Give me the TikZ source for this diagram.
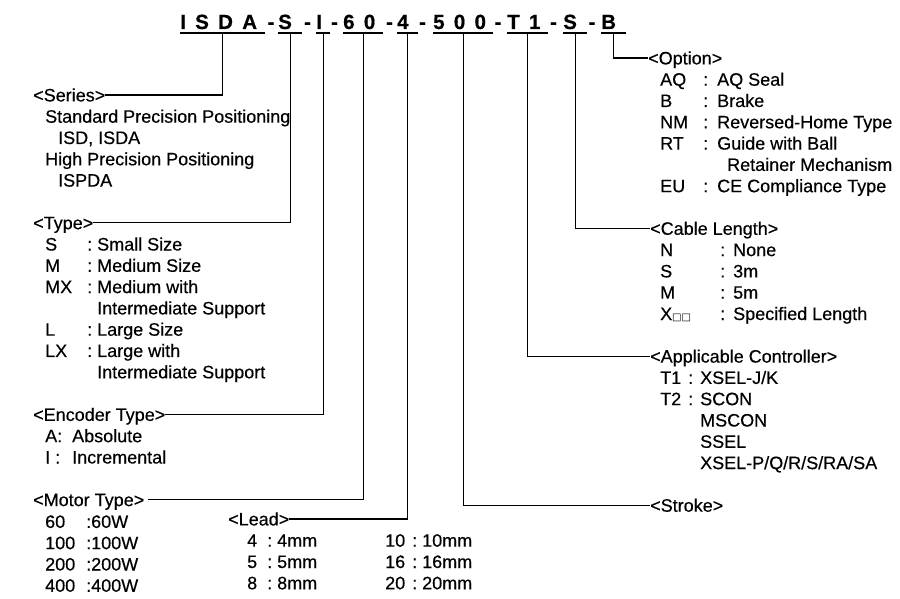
\documentclass[tikz,border=0pt]{standalone}
\usepackage{fontspec}
\usepackage{array}
\setmainfont{Liberation Sans}[FakeBold=0.4]
\newfontfamily\titlefont{Liberation Sans Bold}[FakeBold=0.6]
\newfontfamily\symfont{DejaVu Sans}
\newcommand\trk{\kern9.3pt}
\begin{document}
\begin{tikzpicture}[x=1pt,y=-1pt,
  lbl/.style={inner sep=0pt, anchor=base west, font=\fontsize{18}{21.3}\selectfont},
  seg/.style={inner sep=0pt, anchor=base west, font=\titlefont\fontsize{20.5}{22}\selectfont},
  hy/.style={inner sep=0pt, anchor=base, font=\titlefont\fontsize{20.5}{22}\selectfont},
  ul/.style={line width=1.9pt},
  con/.style={line width=1.1pt}]
\useasboundingbox (0,0) rectangle (900,599);

% ---- title segments ----
\node[seg] (sISDA) at (180,29) {\makebox[85pt][l]{I\trk S\trk D\trk A}};
\node[seg] (sS)    at (278,29) {\makebox[24pt][l]{S}};
\node[seg] (sI)    at (316,29) {\makebox[14pt][l]{I}};
\node[seg] (s60)   at (343,29) {\makebox[40pt][l]{6\trk 0}};
\node[seg] (s4)    at (397,29) {\makebox[21pt][l]{4}};
\node[seg] (s500)  at (433,29) {\makebox[60pt][l]{5\trk 0\trk 0}};
\node[seg] (sT1)   at (507,29) {\makebox[41pt][l]{T\trk 1}};
\node[seg] (sS2)   at (563,29) {\makebox[24pt][l]{S}};
\node[seg] (sB)    at (601,29) {\makebox[25pt][l]{B}};
\node[hy] (h1) at (271,29) {-};
\node[hy] (h2) at (307.5,29) {-};
\node[hy] (h3) at (334.5,29) {-};
\node[hy] (h4) at (389.5,29) {-};
\node[hy] (h5) at (422.5,29) {-};
\node[hy] (h6) at (498,29) {-};
\node[hy] (h7) at (553.5,29) {-};
\node[hy] (h8) at (592,29) {-};
\foreach \s in {sISDA,sS,sI,s60,s4,s500,sT1,sS2,sB}
  \draw[ul] ([yshift=-4.3pt]\s.base west) -- ([yshift=-4.3pt]\s.base east);

% ---- left headers and lists ----
\node[lbl] (series) at (33,101.4) {<Series>};
\node[lbl] (serieslist) at (45,122.7) {\begin{tabular}[t]{@{}l@{}}
Standard Precision Positioning\\
\hspace*{13pt}ISD, ISDA\\
High Precision Positioning\\
\hspace*{13pt}ISPDA
\end{tabular}};

\node[lbl] (type) at (33,229.2) {<Type>};
\node[lbl] (typelist) at (45,250.5) {\begin{tabular}[t]{@{}w{l}{42pt}@{}w{l}{10pt}@{}l@{}}
S & : & Small Size\\
M & : & Medium Size\\
MX & : & Medium with\\
 & & Intermediate Support\\
L & : & Large Size\\
LX & : & Large with\\
 & & Intermediate Support
\end{tabular}};

\node[lbl] (encoder) at (33,420.9) {<Encoder Type>};
\node[lbl] (encoderlist) at (45,442.2) {\begin{tabular}[t]{@{}w{l}{27pt}@{}l@{}}
A: & Absolute\\
I : & Incremental
\end{tabular}};

\node[lbl] (motor) at (33,506.1) {<Motor Type>};
\node[lbl] (motorlist) at (45,527.9) {\begin{tabular}[t]{@{}w{l}{41pt}@{}l@{}}
60 & :60W\\
100 & :100W\\
200 & :200W\\
400 & :400W
\end{tabular}};

\node[lbl] (lead) at (228,525.4) {<Lead>};
\node[lbl] (leadlist) at (247,546.7) {\begin{tabular}[t]{@{}w{l}{20pt}@{}w{l}{10pt}@{}w{l}{108pt}@{}w{l}{27pt}@{}w{l}{10pt}@{}l@{}}
4 & : & 4mm & 10 & : & 10mm\\
5 & : & 5mm & 16 & : & 16mm\\
8 & : & 8mm & 20 & : & 20mm
\end{tabular}};

% ---- right headers and lists ----
\node[lbl] (option) at (648,64.4) {<Option>};
\node[lbl] (optionlist) at (660,85.7) {\begin{tabular}[t]{@{}w{l}{43pt}@{}w{l}{14pt}@{}l@{}}
AQ & : & AQ Seal\\
B & : & Brake\\
NM & : & Reversed-Home Type\\
RT & : & Guide with Ball\\
 & & \hspace*{10pt}Retainer Mechanism\\
EU & : & CE Compliance Type
\end{tabular}};

\node[lbl] (cable) at (650,234.8) {<Cable Length>};
\node[lbl] (cablelist) at (660,256.1) {\begin{tabular}[t]{@{}w{l}{60pt}@{}w{l}{13pt}@{}l@{}}
N & : & None\\
S & : & 3m\\
M & : & 5m\\
X{\symfont\fontsize{10}{12}\selectfont □□} & : & Specified Length
\end{tabular}};

\node[lbl] (appl) at (650,362.6) {<Applicable Controller>};
\node[lbl] (appllist) at (660,383.9) {\begin{tabular}[t]{@{}w{l}{28pt}@{}w{l}{12pt}@{}l@{}}
T1 & : & XSEL-J/K\\
T2 & : & SCON\\
 & & MSCON\\
 & & SSEL\\
 & & XSEL-P/Q/R/S/RA/SA
\end{tabular}};

\node[lbl] (stroke) at (650,511.7) {<Stroke>};

% ---- connectors ----
\draw[con] ([yshift=-4.3pt]sISDA.base) |- ([yshift=6.4pt]series.base east);
\draw[con] ([yshift=-4.3pt]sS.base) |- ([yshift=6.4pt]type.base east);
\draw[con] ([yshift=-4.3pt]sI.base) |- ([yshift=6.4pt]encoder.base east);
\draw[con] ([yshift=-4.3pt]s60.base) |- ([xshift=4pt,yshift=6.4pt]motor.base east);
\draw[con] ([yshift=-4.3pt]s4.base) |- ([yshift=6.4pt]lead.base east);
\draw[con] ([yshift=-4.3pt]s500.base) |- ([yshift=6.4pt]stroke.base west);
\draw[con] ([yshift=-4.3pt]sT1.base) |- ([yshift=6.4pt]appl.base west);
\draw[con] ([yshift=-4.3pt]sS2.base) |- ([yshift=6.4pt]cable.base west);
\draw[con] ([yshift=-4.3pt]sB.base) |- ([yshift=6.4pt]option.base west);
\end{tikzpicture}
\end{document}
